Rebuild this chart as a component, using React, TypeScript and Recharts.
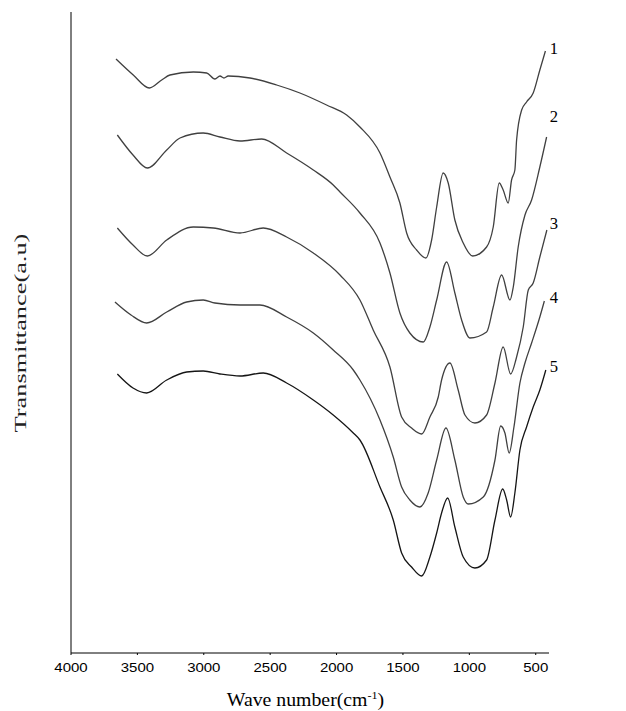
import React from 'react';
import { LineChart, Line, XAxis, YAxis, ReferenceDot } from 'recharts';

// Wavenumbers (cm-1) and transmittance (a.u., offset curves) for each sample
const wn1 = [3661, 3531, 3410, 3317, 3255, 3079, 2978, 2916, 2878, 2848, 2816, 2652, 2451, 2276, 2075, 1924, 1824, 1673, 1598, 1523, 1472, 1397, 1327, 1284, 1246, 1197, 1159, 1109, 1046, 975, 870, 820, 775, 745, 707, 682, 657, 644, 606, 569, 519, 469, 427];
const t1 = [594, 578, 565, 573, 578, 581, 580, 574, 577, 575, 577, 575, 568, 560, 548, 538, 526, 500, 476, 450, 420, 403, 395, 413, 446, 480, 470, 433, 410, 397, 406, 426, 470, 463, 450, 473, 483, 513, 543, 551, 560, 583, 602];

const wn2 = [3651, 3533, 3425, 3279, 3179, 3004, 2878, 2727, 2564, 2376, 2175, 2025, 1974, 1824, 1673, 1598, 1523, 1448, 1347, 1297, 1246, 1171, 1109, 1058, 996, 870, 820, 757, 694, 669, 632, 581, 531, 469, 418];
const t2 = [518, 498, 485, 503, 515, 520, 516, 512, 514, 500, 483, 468, 461, 440, 410, 380, 340, 320, 311, 326, 353, 391, 360, 333, 315, 321, 346, 378, 353, 366, 406, 438, 453, 486, 516];

const wn3 = [3651, 3533, 3425, 3279, 3079, 2928, 2727, 2552, 2376, 2175, 1974, 1824, 1724, 1598, 1510, 1435, 1359, 1297, 1234, 1209, 1146, 1084, 1033, 958, 870, 807, 745, 689, 644, 594, 556, 519, 469, 416];
const t3 = [425, 408, 397, 413, 426, 425, 420, 425, 416, 400, 378, 353, 323, 286, 236, 225, 219, 236, 256, 273, 290, 263, 238, 230, 238, 270, 306, 279, 296, 326, 363, 370, 396, 423];

const wn4 = [3669, 3548, 3430, 3279, 3129, 3004, 2916, 2727, 2577, 2376, 2175, 2025, 1874, 1824, 1673, 1573, 1510, 1448, 1372, 1310, 1246, 1176, 1109, 1046, 1008, 895, 807, 764, 732, 700, 664, 619, 581, 531, 469, 435];
const t4 = [351, 338, 330, 341, 351, 353, 350, 348, 348, 336, 320, 303, 283, 273, 233, 196, 166, 153, 146, 160, 193, 225, 193, 156, 149, 156, 193, 227, 220, 200, 226, 270, 290, 310, 336, 352];

const wn5 = [3651, 3533, 3430, 3279, 3129, 3004, 2878, 2727, 2552, 2376, 2175, 2025, 1874, 1824, 1673, 1573, 1510, 1435, 1359, 1297, 1246, 1209, 1163, 1109, 1046, 958, 870, 807, 749, 719, 689, 657, 619, 569, 519, 469, 424];
const t5 = [279, 265, 260, 273, 281, 282, 279, 277, 280, 270, 253, 238, 220, 213, 166, 133, 100, 86, 77, 96, 120, 140, 155, 126, 96, 85, 93, 133, 164, 153, 136, 160, 203, 226, 246, 263, 283];

const xTicks = [4000, 3500, 3000, 2500, 2000, 1500, 1000, 500];
const seriesNames = ['1', '2', '3', '4', '5'];
const labelWn = [363, 363, 363, 363, 363];
const labelT = [605, 537, 430, 356, 287];

const zip = (w: number[], t: number[]) => w.map((x, i) => ({ wn: x, t: t[i] }));
const seriesData = [zip(wn1, t1), zip(wn2, t2), zip(wn3, t3), zip(wn4, t4), zip(wn5, t5)];
const strokes = ['#404040', '#404040', '#404040', '#404040', '#151515'];

const serif = "'Liberation Serif', 'Times New Roman', serif";

const XTick = (props: any) => {
  const { x, y, payload } = props;
  return (
    <g transform={`translate(${x},${y})`}>
      <text
        transform="scale(1.19,1)"
        textAnchor="middle"
        y={17}
        fontFamily="'Liberation Sans', Arial, sans-serif"
        fontSize={12.6}
        fill="#000"
      >
        {payload.value}
      </text>
    </g>
  );
};

const Titles = () => (
  <g>
    <g transform="translate(305.5,706) scale(1.1,1)">
      <text textAnchor="middle" fontFamily={serif} fontSize={18} fill="#000">
        <tspan>Wave number(cm</tspan>
        <tspan fontSize={11} dy={-7}>-1</tspan>
        <tspan dy={7}>)</tspan>
      </text>
    </g>
    <g transform="translate(26,333) rotate(-90) scale(1.49,1)">
      <text textAnchor="middle" fontFamily={serif} fontSize={17.7} fill="#222">
        Transmittance(a.u)
      </text>
    </g>
  </g>
);

export default function App() {
  return (
    <div style={{ position: 'absolute', left: 0, top: 0, width: 626, height: 711, background: '#fff' }}>
      <LineChart width={626} height={711} margin={{ top: 12, right: 77, bottom: 0, left: 40 }}>
        <XAxis
          type="number"
          dataKey="wn"
          domain={[400, 4000]}
          reversed
          allowDataOverflow
          ticks={xTicks}
          interval={0}
          height={58}
          tickSize={2}
          tickMargin={0}
          axisLine={{ stroke: '#000', strokeWidth: 1 }}
          tickLine={{ stroke: '#000' }}
          tick={<XTick />}
          label={<Titles />}
        />
        <YAxis
          type="number"
          dataKey="t"
          domain={[0, 641]}
          width={31}
          tick={false}
          tickLine={false}
          axisLine={{ stroke: '#000', strokeWidth: 1 }}
        />
        {seriesData.map((d, i) => (
          <Line
            key={seriesNames[i]}
            name={seriesNames[i]}
            data={d}
            dataKey="t"
            type="monotone"
            stroke={strokes[i]}
            strokeWidth={1.3}
            dot={false}
            activeDot={false}
            isAnimationActive={false}
          />
        ))}
        {seriesNames.map((n, i) => (
          <ReferenceDot
            key={'lbl' + n}
            x={labelWn[i]}
            y={labelT[i]}
            r={0}
            ifOverflow="visible"
            shape={(p: any) => (
              <text
                x={p.cx}
                y={p.cy + 5.5}
                textAnchor="middle"
                fontFamily={serif}
                fontSize={16.6}
                fill="#000"
              >
                {n}
              </text>
            )}
          />
        ))}
      </LineChart>
    </div>
  );
}
